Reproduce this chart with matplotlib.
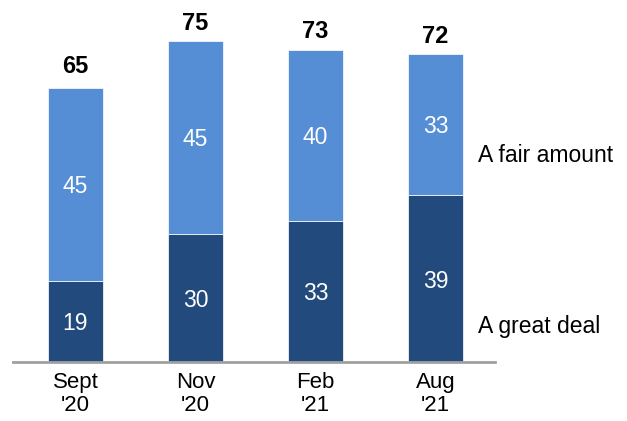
import matplotlib.pyplot as plt

periods = ["Sept\n'20", "Nov\n'20", "Feb\n'21", "Aug\n'21"]
great_deal = [19, 30, 33, 39]
fair_amount = [45, 45, 40, 33]
totals = [65, 75, 73, 72]

dark = "#224a7c"
light = "#558ed5"
font = "Liberation Sans"

fig = plt.figure(figsize=(6.27, 4.21), dpi=100)
# bar centres at 75.5 px, 120 px apart; baseline at 362 px from top
ax = fig.add_axes([13 / 627, 59 / 421, (495 - 13) / 627, 362 / 421])
ax.set_xlim((13 - 75.5) / 120, (495 - 75.5) / 120)
ax.set_ylim(0, 362 / 4.28)

x = range(len(periods))
w = 55 / 120
ax.bar(x, great_deal, width=w, color=dark, edgecolor="white", linewidth=0.5)
ax.bar(x, fair_amount, width=w, bottom=great_deal, color=light,
       edgecolor="white", linewidth=0.5)

for i in x:
    ax.text(i, great_deal[i] / 2, str(great_deal[i]), ha="center",
            va="center_baseline", color="white", fontsize=16.5, family=font)
    ax.text(i, great_deal[i] + fair_amount[i] / 2, str(fair_amount[i]),
            ha="center", va="center_baseline", color="white", fontsize=16.5,
            family=font)
    ax.text(i, totals[i] + 2.6, str(totals[i]), ha="center", va="baseline",
            color="black", fontsize=17, fontweight="bold", family=font)
    ax.text(i, -2.4, periods[i], ha="center", va="top", fontsize=16,
            family=font, linespacing=1.1)

lx = (478 - 75.5) / 120
ax.text(lx, 6.8, "A great deal", ha="left", va="baseline", fontsize=16.5,
        family=font)
ax.text(lx, 46.8, "A fair amount", ha="left", va="baseline", fontsize=16.5,
        family=font)

for s in ["top", "right", "left"]:
    ax.spines[s].set_visible(False)
ax.spines["bottom"].set_color("#a0a0a0")
ax.spines["bottom"].set_linewidth(2)
ax.set_xticks([])
ax.set_yticks([])

fig.savefig("out.png", dpi=100)
